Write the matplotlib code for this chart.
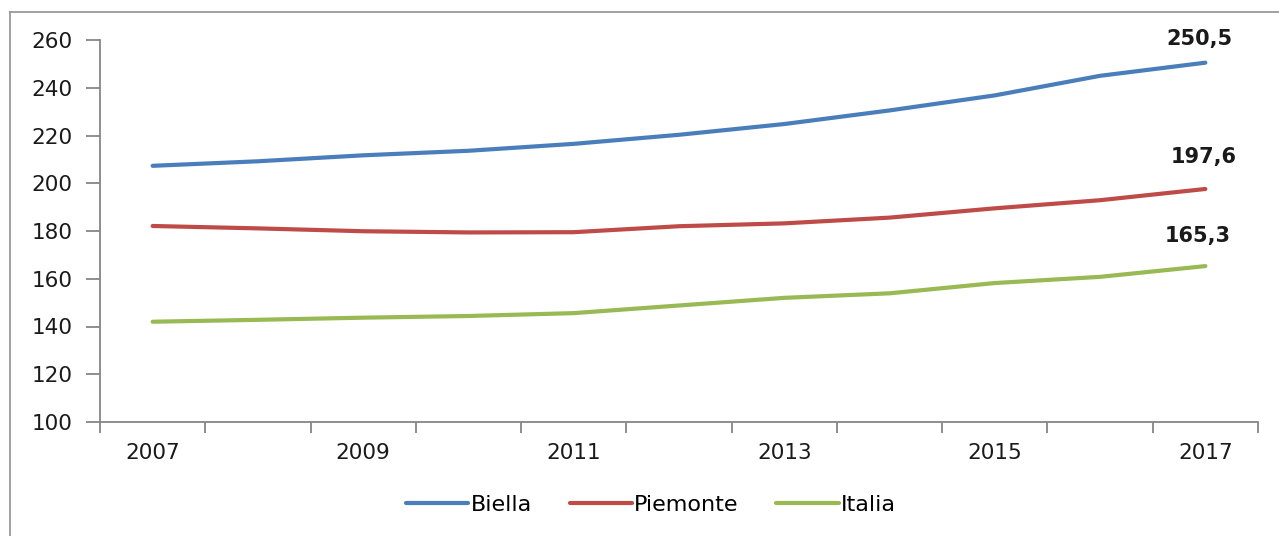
import matplotlib
matplotlib.use("Agg")
import matplotlib.pyplot as plt
from matplotlib.lines import Line2D

years = ["2007", "2008", "2009", "2010", "2011", "2012", "2013", "2014", "2015", "2016", "2017"]
biella = [207.3, 209.2, 211.7, 213.6, 216.5, 220.3, 224.8, 230.5, 236.8, 245.0, 250.5]
piemonte = [182.1, 181.1, 179.9, 179.4, 179.5, 182.0, 183.2, 185.6, 189.5, 192.9, 197.6]
italia = [142.0, 142.8, 143.7, 144.4, 145.6, 148.8, 152.0, 153.9, 158.2, 160.8, 165.3]
series_names = ["Biella", "Piemonte", "Italia"]
end_labels = ["250,5", "197,6", "165,3"]
y_ticks = [100, 120, 140, 160, 180, 200, 220, 240, 260]

colors = ["#4A7EBB", "#BE4B48", "#98B954"]
plt.rcParams['font.family'] = ['DejaVu Sans']

W, H = 1279, 536
fig = plt.figure(figsize=(W / 100, H / 100), dpi=100)
ax = fig.add_axes([100 / W, 1 - 422 / H, (1258 - 100) / W, (422 - 40) / H])

x = list(range(len(years)))
data = [biella, piemonte, italia]
for vals, c, name in zip(data, colors, series_names):
    ax.plot(x, vals, color=c, lw=3.0, solid_capstyle='round', label=name)

offsets = [(-6, 24), (-2, 32), (-8, 30)]
for vals, lab, off in zip(data, end_labels, offsets):
    ax.annotate(lab, (x[-1], vals[-1]), xytext=off, textcoords='offset pixels',
                ha='center', va='center', fontsize=15, fontweight='bold', color='#1a1a1a')

ax.set_xlim(-0.5, len(years) - 0.5)
ax.set_ylim(100, 260)
ax.set_yticks(y_ticks)
ax.set_yticklabels([str(v) for v in y_ticks])

ax.set_xticks([i - 0.5 for i in range(len(years) + 1)])
ax.set_xticklabels([])
ax.set_xticks([i for i in range(0, len(years), 2)], minor=True)
ax.set_xticklabels([years[i] for i in range(0, len(years), 2)], minor=True)

spine_col = '#868686'
for s in ['top', 'right']:
    ax.spines[s].set_visible(False)
for s in ['left', 'bottom']:
    ax.spines[s].set_color(spine_col)
    ax.spines[s].set_linewidth(1.3)

ax.tick_params(axis='y', direction='out', length=10, width=1.3, color=spine_col,
               labelsize=15.5, pad=10, labelcolor='#1a1a1a')
ax.tick_params(axis='x', which='major', direction='out', length=8, width=1.3, color=spine_col)
ax.tick_params(axis='x', which='minor', length=0, labelsize=15.5, pad=15, labelcolor='#1a1a1a')

handles = [Line2D([0], [0], color=c, lw=3.0, solid_capstyle='round') for c in colors]
fig.legend(handles, series_names, loc='center', bbox_to_anchor=(0.509, 1 - 505 / H),
           ncol=3, frameon=False, fontsize=16, handlelength=2.8, handletextpad=0.1,
           columnspacing=1.7)

# outer frame (left and top edges visible)
fig.add_artist(Line2D([10 / W, 10 / W], [0, 1 - 12 / H], transform=fig.transFigure,
                      color='#9a9a9a', lw=1.3))
fig.add_artist(Line2D([10 / W, 1], [1 - 12 / H, 1 - 12 / H], transform=fig.transFigure,
                      color='#9a9a9a', lw=1.3))

fig.savefig("out.png", dpi=100)
